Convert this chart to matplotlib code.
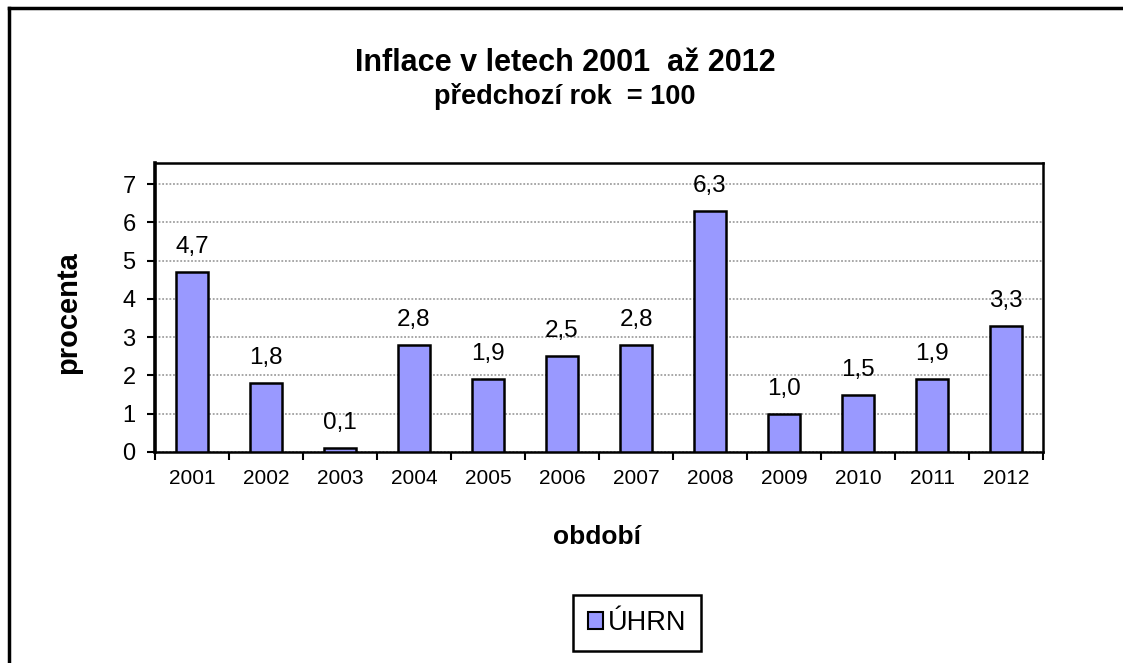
import numpy as np
import matplotlib
matplotlib.use("Agg")
import matplotlib.pyplot as plt
from matplotlib.lines import Line2D

plt.rcParams['font.family'] = ['Liberation Sans', 'DejaVu Sans']

years = ['2001', '2002', '2003', '2004', '2005', '2006',
         '2007', '2008', '2009', '2010', '2011', '2012']
values = [4.7, 1.8, 0.1, 2.8, 1.9, 2.5, 2.8, 6.3, 1.0, 1.5, 1.9, 3.3]
yticks = [0, 1, 2, 3, 4, 5, 6, 7]

fig = plt.figure(figsize=(11.23, 6.63), dpi=100)
ax = fig.add_axes([0.138, 0.3183, 0.7908, 0.4358])

x = np.arange(len(years))
bars = ax.bar(x, values, width=0.42, color='#9999FF', edgecolor='black',
              linewidth=1.8, zorder=3, label='ÚHRN')

for xi, v in zip(x, values):
    ax.annotate(f'{v:.1f}'.replace('.', ','), (xi, v), xytext=(0, 18),
                textcoords='offset points', ha='center', va='center',
                fontsize=17.5)

ax.set_xlim(-0.5, len(years) - 0.5)
ax.set_ylim(0, 7.55)
ax.set_yticks(yticks)
ax.set_yticklabels([str(t) for t in yticks], fontsize=17)
ax.yaxis.grid(True, color='#a0a0a0', linestyle=(0, (1, 1)), linewidth=1.3, zorder=0)
ax.set_axisbelow(True)

ax.set_xticks(x)
ax.set_xticklabels(years, fontsize=15)
ax.set_xticks(np.arange(-0.5, len(years)), minor=True)
ax.tick_params(axis='x', which='major', length=0, pad=12)
ax.tick_params(axis='x', which='minor', length=6, width=1.5, direction='out')
ax.tick_params(axis='y', length=6, width=1.5, direction='out', pad=8)

for side in ['top', 'right', 'bottom']:
    ax.spines[side].set_linewidth(1.8)
ax.spines['left'].set_linewidth(2.6)

fig.text(0.503, 0.905, 'Inflace v letech 2001  až 2012', ha='center',
         va='center', fontsize=22, fontweight='bold')
fig.text(0.503, 0.854, 'předchozí rok  = 100', ha='center', va='center',
         fontsize=19.5, fontweight='bold')
fig.text(0.0605, 0.529, 'procenta', rotation=90, ha='center', va='center',
         fontsize=21, fontweight='bold')
fig.text(0.5316, 0.19, 'období', ha='center', va='center',
         fontsize=19, fontweight='bold')

leg = fig.legend(handles=[bars], labels=['ÚHRN'], loc='center',
                 bbox_to_anchor=(0.5673, 0.0603), fontsize=19.5,
                 fancybox=False, edgecolor='black', framealpha=1,
                 handlelength=0.55, handleheight=0.55, handletextpad=0.2,
                 borderpad=0.55, borderaxespad=0)
leg.get_frame().set_linewidth(1.8)
for h in leg.legend_handles:
    h.set_linewidth(1.5)

# outer chart frame
fig.add_artist(Line2D([0.008, 1.0], [0.988, 0.988], color='black', lw=2.5,
                      transform=fig.transFigure))
fig.add_artist(Line2D([0.008, 0.008], [0.0, 0.988], color='black', lw=2.5,
                      transform=fig.transFigure))

fig.savefig('out.png', dpi=100)
